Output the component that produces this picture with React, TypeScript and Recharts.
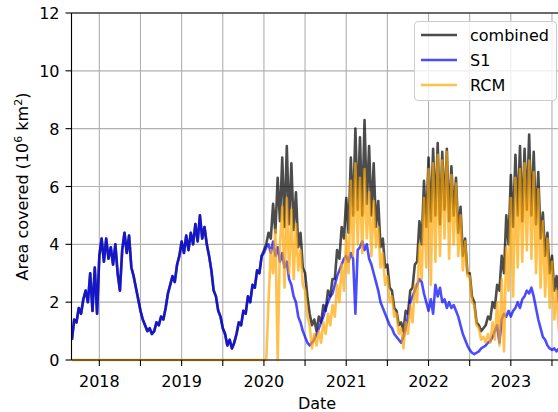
import React from "react";
import {
  LineChart,
  Line,
  XAxis,
  YAxis,
  CartesianGrid,
  ReferenceLine,
} from "recharts";

// time grid: one sample every 1/36 year, starting early Sep 2017
const START_YEAR = 2017.667;
const STEP = 1 / 36;

const xTicks = [2018, 2018.5, 2019, 2019.5, 2020, 2020.5, 2021, 2021.5, 2022, 2022.5, 2023, 2023.5];
const yTicks = [0, 2, 4, 6, 8, 10, 12];

// area covered, 10^6 km^2
const s1Values = [
  0.7, 1.4, 1.3, 1.8, 1.6, 2.1, 2.4, 2.0, 3.0, 1.7, 3.2, 1.6,
  3.6, 4.2, 3.4, 4.2, 3.5, 3.9, 3.3, 4.0, 3.0, 2.4, 3.8, 4.4,
  3.7, 4.3, 3.2, 2.9, 2.5, 2.1, 1.7, 1.4, 1.2, 1.0, 1.1, 0.9,
  1.0, 1.3, 1.2, 1.5, 1.4, 1.8, 2.3, 2.6, 2.9, 2.7, 3.3, 3.6,
  4.1, 3.7, 4.3, 3.8, 4.4, 4.0, 4.7, 4.1, 5.0, 4.2, 4.6, 4.0,
  3.6, 3.1, 2.4, 2.2, 1.7, 1.5, 1.1, 0.9, 0.5, 0.7, 0.4, 0.6,
  0.9, 1.3, 1.2, 1.7, 1.6, 2.2, 2.0, 2.6, 2.5, 3.1, 3.0, 3.6,
  3.7, 3.9, 4.0, 3.7, 4.1, 3.6, 3.9, 3.4, 3.7, 3.2, 3.4, 2.8,
  2.6, 2.2, 2.0, 1.5, 1.3, 1.0, 0.8, 0.6, 0.5, 0.6, 0.7, 0.9,
  1.1, 1.3, 1.5, 1.8, 2.0, 2.2, 2.3, 2.6, 2.9, 3.1, 3.3, 3.5,
  3.6, 3.4, 3.7, 3.5, 1.6, 3.8, 3.9, 4.1, 3.8, 4.0, 3.5, 3.3,
  3.0, 2.7, 2.4, 2.0, 1.8, 1.6, 1.4, 1.2, 1.1, 0.9, 0.8, 0.7,
  0.6, 0.8, 1.1, 1.5, 2.0, 2.2, 2.4, 2.6, 2.8, 2.7, 2.3, 2.0,
  1.7, 2.1, 1.6, 2.6, 2.2, 2.5, 2.0, 2.1, 1.8, 2.0, 1.8, 1.9,
  1.7, 1.5, 1.2, 0.9, 0.7, 0.5, 0.35, 0.25, 0.2, 0.25, 0.3, 0.4,
  0.45, 0.5, 0.6, 0.65, 0.8, 1.0, 1.2, 0.6, 1.4, 1.6, 1.5, 1.7,
  1.5, 1.7, 1.8, 2.0, 1.8, 2.1, 2.2, 2.4, 2.3, 2.5, 2.2, 1.8,
  1.4, 1.1, 0.8, 0.7, 0.5, 0.4, 0.35, 0.4, 0.3, 0.4,
];

const rcmValues = [
  0, 0, 0, 0, 0, 0, 0, 0, 0, 0, 0, 0,
  0, 0, 0, 0, 0, 0, 0, 0, 0, 0, 0, 0,
  0, 0, 0, 0, 0, 0, 0, 0, 0, 0, 0, 0,
  0, 0, 0, 0, 0, 0, 0, 0, 0, 0, 0, 0,
  0, 0, 0, 0, 0, 0, 0, 0, 0, 0, 0, 0,
  0, 0, 0, 0, 0, 0, 0, 0, 0, 0, 0, 0,
  0, 0, 0, 0, 0, 0, 0, 0, 0, 0, 0, 0,
  0, 0, 2.0, 3.8, 3.0, 4.5, 0, 4.0, 5.3, 2.5, 5.6, 3.0,
  5.2, 2.8, 4.7, 3.1, 3.8, 2.6, 2.4, 1.5, 1.2, 0.4, 0.9, 0.5,
  1.0, 0.6, 1.3, 0.9, 1.6, 1.2, 1.9, 1.5, 2.6, 2.0, 3.3, 2.4,
  4.3, 3.0, 6.2, 3.6, 6.8, 4.0, 6.3, 3.7, 6.6, 4.2, 5.8, 3.6,
  5.5, 3.9, 4.6, 3.2, 3.7, 2.6, 2.9, 2.0, 2.2, 1.5, 1.6, 0.9,
  1.1, 0.4, 1.3, 0.9, 1.9, 1.3, 2.6, 2.0, 4.0, 2.8, 5.6, 3.2,
  6.6, 2.6, 6.8, 3.4, 7.1, 3.6, 6.9, 4.2, 7.2, 3.5, 6.4, 4.0,
  6.1, 3.6, 5.0, 3.1, 4.1, 2.9, 2.9, 2.0, 1.9, 1.2, 1.1, 0.7,
  0.8, 0.6, 0.9, 0.6, 1.3, 0.7, 2.0, 0.5, 2.8, 0.3, 3.9, 2.4,
  5.6, 2.2, 6.3, 3.2, 6.6, 3.4, 6.8, 3.8, 6.9, 3.5, 6.5, 3.0,
  5.9, 2.5, 4.8, 2.2, 4.2, 1.8, 3.4, 1.4, 2.4, 1.0,
];

const combinedValues = [
  0.7, 1.4, 1.3, 1.8, 1.6, 2.1, 2.4, 2.0, 3.0, 1.7, 3.2, 1.6,
  3.6, 4.2, 3.4, 4.2, 3.5, 3.9, 3.3, 4.0, 3.0, 2.4, 3.8, 4.4,
  3.7, 4.3, 3.2, 2.9, 2.5, 2.1, 1.7, 1.4, 1.2, 1.0, 1.1, 0.9,
  1.0, 1.3, 1.2, 1.5, 1.4, 1.8, 2.3, 2.6, 2.9, 2.7, 3.3, 3.6,
  4.1, 3.7, 4.3, 3.8, 4.4, 4.0, 4.7, 4.1, 5.0, 4.2, 4.6, 4.0,
  3.6, 3.1, 2.4, 2.2, 1.7, 1.5, 1.1, 0.9, 0.5, 0.7, 0.4, 0.6,
  0.9, 1.3, 1.2, 1.7, 1.6, 2.2, 2.0, 2.6, 2.5, 3.1, 3.0, 3.6,
  3.8, 4.0, 4.4, 4.2, 5.4, 4.4, 6.3, 4.8, 7.0, 4.6, 7.4, 4.7,
  6.8, 4.5, 5.8, 3.9, 4.4, 3.2, 3.0, 2.2, 1.6, 1.2, 1.4, 1.0,
  1.5, 1.3, 1.9, 1.7, 2.4, 2.2, 2.8, 2.8, 3.8, 3.5, 4.6, 4.2,
  5.6, 4.4, 7.0, 5.0, 8.0, 5.2, 7.7, 5.0, 8.3, 5.4, 7.4, 5.0,
  6.8, 4.6, 5.5, 3.9, 4.2, 3.2, 3.3, 2.5, 2.4, 1.8, 1.7, 1.2,
  1.3, 1.0, 1.7, 1.6, 2.4, 2.5, 3.3, 3.4, 4.8, 4.0, 6.2, 4.6,
  7.0, 4.8, 7.3, 5.0, 7.5, 4.7, 7.2, 5.2, 7.3, 4.8, 6.7, 5.0,
  6.3, 4.4, 5.3, 3.6, 4.2, 3.0, 3.0, 2.2, 2.0, 1.3, 1.2, 1.0,
  1.1, 1.2, 1.5, 1.4, 2.0, 1.8, 2.6, 2.4, 3.6, 3.0, 5.0, 4.0,
  6.4, 4.6, 7.1, 5.0, 7.4, 4.8, 7.3, 5.2, 7.8, 5.0, 7.2, 4.7,
  6.5, 4.2, 5.1, 3.6, 4.4, 3.0, 3.6, 2.4, 2.9, 2.0,
];

const series = [
  { key: "combined", color: "#000000" },
  { key: "S1", color: "#0000ff" },
  { key: "RCM", color: "#ffa500" },
];

const data = s1Values.map((v, i) => ({
  t: START_YEAR + i * STEP,
  combined: combinedValues[i],
  S1: v,
  RCM: rcmValues[i],
}));

const FONT = "DejaVu Sans, sans-serif";

function XTick(props: any) {
  const { x, y, payload } = props;
  const v = payload.value;
  if (Math.abs(v - Math.round(v)) > 1e-6) return <g />;
  return (
    <text x={x} y={y} dy={19} textAnchor="middle" fontSize={16} fontFamily={FONT} fill="#000">
      {Math.round(v)}
    </text>
  );
}

function YTick(props: any) {
  const { x, y, payload } = props;
  return (
    <text x={x} y={y} dx={-4} dy={6} textAnchor="end" fontSize={16} fontFamily={FONT} fill="#000">
      {payload.value}
    </text>
  );
}

function Legend() {
  return (
    <div
      style={{
        position: "absolute",
        left: 414,
        top: 21,
        width: 141,
        height: 78,
        background: "rgba(255,255,255,0.8)",
        border: "1px solid #cccccc",
        borderRadius: 4,
        fontFamily: FONT,
        fontSize: 16,
      }}
    >
      {series.map((s, i) => (
        <div key={s.key} style={{ position: "absolute", left: 0, top: 2 + i * 25, height: 22, display: "flex", alignItems: "center" }}>
          <svg width={48} height={22}>
            <line x1={6} x2={42} y1={11} y2={11} stroke={s.color} strokeOpacity={0.7} strokeWidth={2.6} />
          </svg>
          <span style={{ marginLeft: 7, color: "#000" }}>{s.key}</span>
        </div>
      ))}
    </div>
  );
}

export default function App() {
  return (
    <div style={{ position: "absolute", left: 0, top: 0, width: 558, height: 412, overflow: "hidden", background: "#fff" }}>
      <LineChart width={565} height={412} data={data} margin={{ top: 13, right: 2, bottom: 0, left: 0 }}>
        <CartesianGrid stroke="#b0b0b0" strokeWidth={1.1} />
        <XAxis
          dataKey="t"
          type="number"
          domain={[2017.662, 2023.634]}
          allowDataOverflow
          ticks={xTicks}
          interval={0}
          height={52}
          tick={<XTick />}
          tickSize={6}
          tickLine={{ stroke: "#000", strokeWidth: 1.1 }}
          axisLine={{ stroke: "#000", strokeWidth: 1.1 }}
          label={{
            content: () => (
              <text x={317} y={409} textAnchor="middle" fontSize={16} fontFamily={FONT} fill="#000">
                Date
              </text>
            ),
          }}
        />
        <YAxis
          type="number"
          domain={[0, 12]}
          ticks={yTicks}
          interval={0}
          width={71.5}
          tick={<YTick />}
          tickSize={6}
          tickLine={{ stroke: "#000", strokeWidth: 1.1 }}
          axisLine={{ stroke: "#000", strokeWidth: 1.1 }}
          label={{
            content: () => (
              <text
                x={0}
                y={0}
                transform="translate(28,186.5) rotate(-90)"
                textAnchor="middle"
                fontSize={16}
                fontFamily={FONT}
                fill="#000"
              >
                Area covered (10
                <tspan dy={-6} fontSize={11}>6</tspan>
                <tspan dy={6}> km</tspan>
                <tspan dy={-6} fontSize={11}>2</tspan>
                <tspan dy={6}>)</tspan>
              </text>
            ),
          }}
        />
        <ReferenceLine y={12} stroke="#000" strokeWidth={1.1} ifOverflow="extendDomain" />
        {series.map((s) => (
          <Line
            key={s.key}
            dataKey={s.key}
            type="linear"
            stroke={s.color}
            strokeOpacity={0.7}
            strokeWidth={2.6}
            strokeLinejoin="round"
            dot={false}
            activeDot={false}
            isAnimationActive={false}
          />
        ))}
      </LineChart>
      <Legend />
    </div>
  );
}
